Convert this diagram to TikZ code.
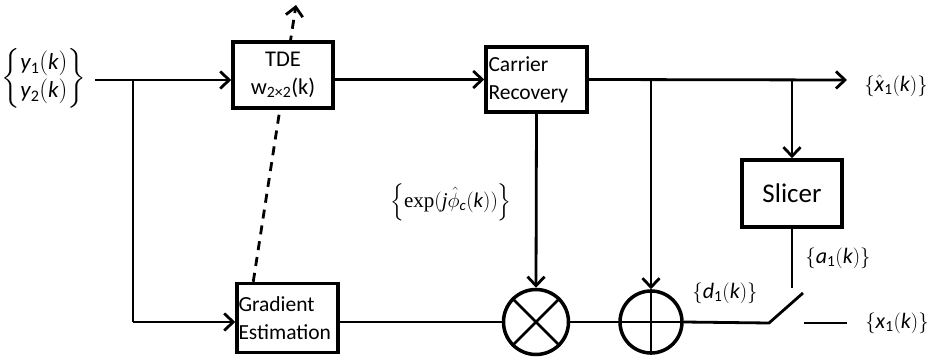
\documentclass[tikz,border=0pt]{standalone}
\usepackage{amsmath}
\usepackage{fontspec}
\setmainfont{Carlito}
\newfontfamily\serifface{Liberation Serif}
\usetikzlibrary{arrows.meta,backgrounds}
\newcommand\sv[1]{\textit{#1}}
\newcommand\sn[1]{\text{\upshape #1}}

\begin{document}
\begin{tikzpicture}[x=1pt,y=-1pt,
  blk/.style={draw, line width=3.5pt, fill=white, inner sep=1.5pt,
    font=\fontsize{21.5}{28}\selectfont},
  conn/.style={line width=2.8pt},
  tip/.style={-{Straight Barb[length=9pt,width=17pt]}},
  arr/.style={conn, tip},
  junc/.style={draw, circle, line width=3.5pt, fill=white, inner sep=0pt},
  lbl/.style={font=\fontsize{22}{26}\selectfont, inner sep=0pt}]
\useasboundingbox (0,0) rectangle (930,361);

% processing blocks
\node[blk, minimum width=100pt, minimum height=66pt, align=center, font=\fontsize{22.5}{29}\selectfont] (tde) at (283,75)
  {TDE\\[-1pt] w\textsubscript{2×2}(k)};
\node[blk, minimum width=101pt, minimum height=65pt, text width=96pt, align=left] (cr) at (536.5,79.5)
  {Carrier\\Recovery};
\node[blk, minimum width=101pt, minimum height=69pt, text width=98pt, align=left, inner sep=0.5pt] (grad) at (287.5,318)
  {Gradient\\Estimation};
\node[blk, minimum width=100pt, minimum height=67pt, font=\fontsize{27}{30}\selectfont] (slicer) at (792,193.5)
  {Slicer};

% multiplier and adder
\node[junc, minimum size=65pt] (mult) at (536,322) {};
\node[junc, minimum size=62pt] (plus) at (651,322) {};

% helper points
\coordinate (in) at (95,80);
\coordinate (br) at (133,80);
\coordinate (gin) at (133,322);
\coordinate (out) at (847,80);
\coordinate (sw1) at (769,323);
\coordinate (sw2) at (803,293);
\coordinate (sw3) at (804,323);
\coordinate (xo) at (847,323);
\coordinate (aend) at (792,288);
\coordinate (gtop) at ([xshift=18pt]grad.north west);
\coordinate (dtip) at (296,5);

% adaptation path, passing behind the TDE block
\begin{scope}[on background layer]
  \draw[conn, tip, dash pattern=on 9pt off 7pt] (gtop) -- (dtip);
\end{scope}

% signal connectors
\draw[arr] (in) -- (in -| tde.west);
\draw[conn] (br) -- (gin);
\draw[arr] (gin) -- (gin -| grad.west);
\draw[arr] (tde.east |- cr.west) -- (cr.west);
\draw[arr] (cr.east) -- (out);
\draw[arr] (cr.south) -- (mult.north);
\draw[conn] (grad.east |- mult.west) -- (mult.west);
\draw[arr] (plus.north |- cr.east) -- (plus.north);
\draw[arr] (slicer.north |- cr.east) -- (slicer.north);
\draw[conn] (mult.east) -- (plus.west);
\draw[conn] (plus.north) -- (plus.south);
\draw[conn] (plus.west) -- (plus.east);
\draw[conn] (mult.45) -- (mult.225);
\draw[conn] (mult.135) -- (mult.315);
\draw[conn] (plus.east) -- (sw1) -- (sw2);
\draw[conn] (slicer.south) -- (aend);
\draw[conn] (sw3) -- (xo);

% signal labels
\node[lbl, font=\fontsize{23}{27}\selectfont] (ylab) at (44,78)
  {$\left\{\begin{array}{@{}l@{}}\sv{y}_{\sn{1}}(\sv{k})\\[1pt] \sv{y}_{\sn{2}}(\sv{k})\end{array}\right\}$};
\node[lbl] (xhat) at (896,86) {$\left\{\hat{\sv{x}}_{\sn{1}}(\sv{k})\vphantom{\hat{\sv{x}}}\right\}$};
\node[lbl, font=\fontsize{21}{25}\selectfont] (phlab) at (451,202)
  {$\left\{\text{\serifface exp}(\text{\serifface\itshape j}\hat{\phi}_{\sv{c}}(\sv{k}))\right\}$};
\node[lbl] (dlab) at (725,293) {$\left\{\sv{d}_{\sn{1}}(\sv{k})\right\}$};
\node[lbl] (alab) at (838,258) {$\left\{\sv{a}_{\sn{1}}(\sv{k})\right\}$};
\node[lbl] (xlab) at (897,323) {$\left\{\sv{x}_{\sn{1}}(\sv{k})\right\}$};
\end{tikzpicture}
\end{document}
